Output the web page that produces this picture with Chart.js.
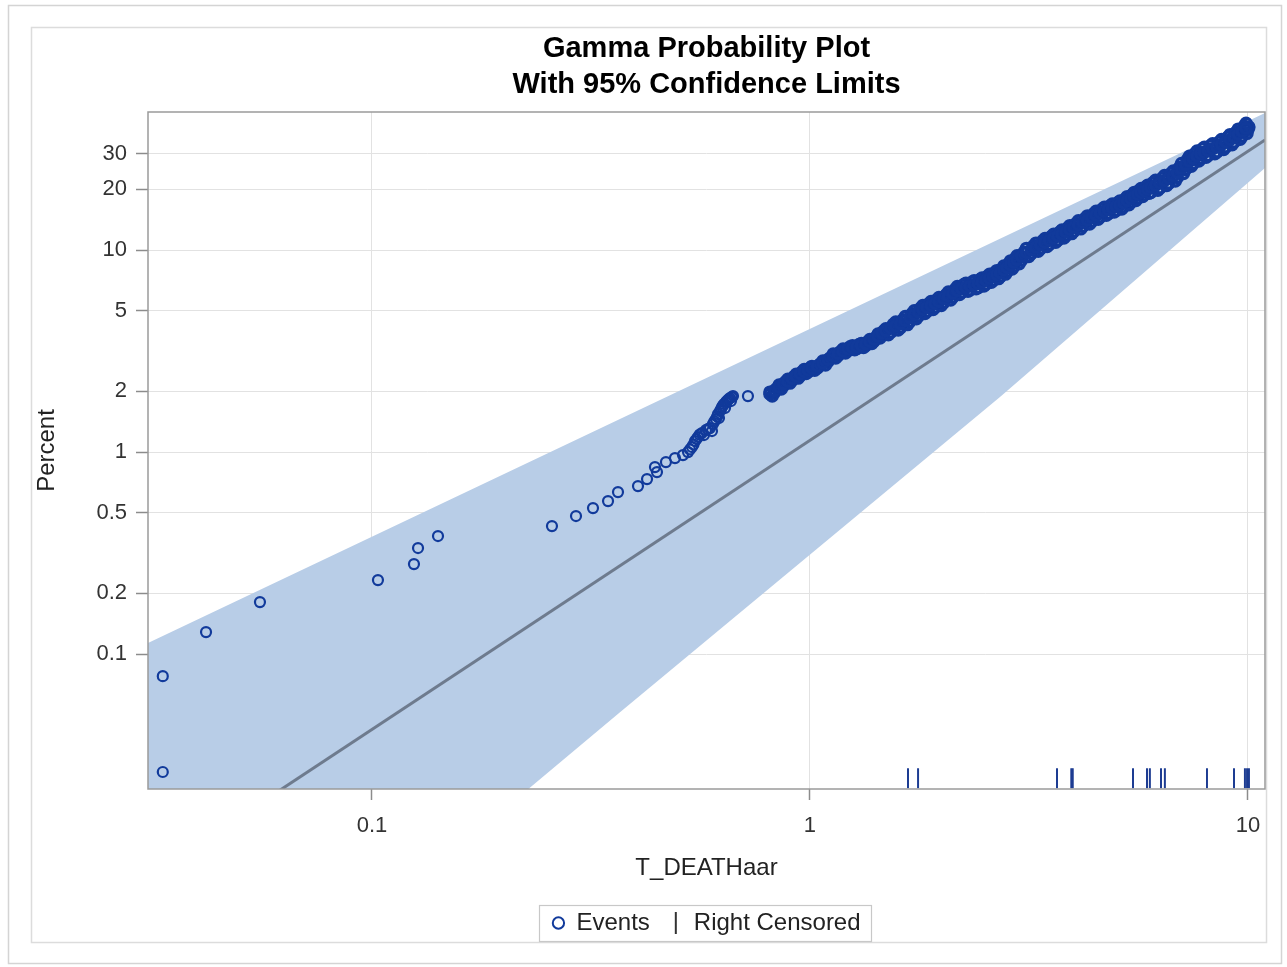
<!DOCTYPE html>
<html>
<head>
<meta charset="utf-8">
<script src="https://cdn.jsdelivr.net/npm/chart.js@4.4.1/dist/chart.umd.min.js"></script>
<style>
html,body{margin:0;padding:0;background:#fff;overflow:hidden}
#wrap{width:1287px;height:967px;position:relative}
</style>
</head>
<body>
<div id="wrap"><canvas id="c" width="1287" height="967"></canvas></div>
<script>
// ---- data ----
const titleLines = ['Gamma Probability Plot', 'With 95% Confidence Limits'];
const xAxisTitle = 'T_DEATHaar';
const yAxisTitle = 'Percent';
const xTicks = [0.1, 1, 10];
const yTicks = [0.1, 0.2, 0.5, 1, 2, 5, 10, 20, 30];

// sparse events (left part and the cluster near 0.5-0.7)
const sparseTimes = [
  0.0333, 0.0333, 0.0418, 0.0555, 0.1032, 0.1247, 0.1274, 0.1415, 0.2576, 0.2923,
  0.3196, 0.3459, 0.3645, 0.4049, 0.4246, 0.4474, 0.4427, 0.4690, 0.4918, 0.5129,
  0.5267, 0.5320, 0.5378, 0.5420, 0.5463, 0.5510, 0.5551, 0.5600, 0.5667, 0.5728,
  0.5788, 0.5850, 0.5911, 0.5974, 0.6004, 0.6050, 0.6100, 0.6140, 0.6166, 0.6198,
  0.6231, 0.6265, 0.6297, 0.6330, 0.6364, 0.6397, 0.6430, 0.6460, 0.6499, 0.6530,
  0.6568, 0.6601, 0.6630, 0.6672, 0.7217
];
const sparsePercents = [
  0.0778, 0.0261, 0.1285, 0.1809, 0.2324, 0.2789, 0.3349, 0.3840, 0.4302, 0.4824,
  0.5282, 0.5719, 0.6339, 0.6787, 0.7349, 0.7961, 0.8428, 0.8923, 0.9339, 0.9663,
  1.000, 1.03, 1.0587, 1.09, 1.1337, 1.16, 1.1866, 1.22, 1.2420, 1.2140,
  1.2849, 1.30, 1.3145, 1.2706, 1.3758, 1.42, 1.4566, 1.50, 1.5424, 1.4734,
  1.5959, 1.63, 1.6702, 1.70, 1.7282, 1.6512, 1.7681, 1.79, 1.8088, 1.83,
  1.8506, 1.7886, 1.87, 1.8933, 1.893
];

// dense run of events (thick band from ~0.8 to 10): three rows across the band
const denseTimesA = [
  0.81, 0.83, 0.85, 0.87, 0.89, 0.91, 0.93, 0.95, 0.97, 0.99,
  1.01, 1.04, 1.07, 1.10, 1.13, 1.16, 1.19, 1.22, 1.25, 1.28, 1.31, 1.34, 1.37, 1.40, 1.43, 1.46, 1.49,
  1.53, 1.57, 1.61, 1.65, 1.69, 1.73, 1.77, 1.81, 1.85, 1.89, 1.93, 1.97,
  2.02, 2.07, 2.12, 2.17, 2.22, 2.27, 2.32, 2.37, 2.42, 2.47, 2.52, 2.57, 2.62, 2.67, 2.72, 2.77, 2.82, 2.87, 2.92, 2.97,
  3.04, 3.12, 3.20, 3.28, 3.36, 3.44, 3.52, 3.60, 3.68, 3.76, 3.84, 3.92,
  4.0, 4.1, 4.2, 4.3, 4.4, 4.5, 4.6, 4.7, 4.8, 4.9, 5.0, 5.1, 5.2, 5.3, 5.4, 5.5, 5.6, 5.7, 5.8, 5.9,
  6.0, 6.15, 6.3, 6.45, 6.6, 6.75, 6.9, 7.05, 7.2, 7.35, 7.5, 7.65, 7.8, 7.95,
  8.1, 8.3, 8.5, 8.7, 8.9, 9.1, 9.3, 9.5, 9.7, 9.9, 10.0, 10.05
];
const densePercentsA = [
  1.981, 1.970, 2.146, 2.128, 2.296, 2.257, 2.431, 2.387, 2.562, 2.491,
  2.656, 2.603, 2.822, 2.809, 3.061, 3.007, 3.236, 3.169, 3.362, 3.252, 3.449, 3.360, 3.604, 3.536, 3.841, 3.803, 4.080,
  3.913, 4.404, 4.126, 4.684, 4.419, 5.006, 4.716, 5.310, 4.959, 5.566, 5.193, 5.821,
  5.478, 6.202, 5.833, 6.594, 6.158, 6.851, 6.337, 7.044, 6.513, 7.271, 6.776, 7.589, 7.067, 7.910, 7.368, 8.329, 7.824, 8.837, 8.296, 9.365,
  8.886, 10.19, 9.581, 10.82, 10.14, 11.41, 10.66, 11.98, 11.19, 12.58, 11.76, 13.21,
  12.34, 13.95, 13.09, 14.76, 13.84, 15.57, 14.58, 16.29, 15.13, 16.89, 15.67, 17.49, 16.35, 18.38, 17.18, 19.29, 18.01, 20.18, 18.75, 20.95,
  19.23, 22.16, 20.28, 23.38, 21.39, 24.64, 22.82, 26.84, 25.03, 29.11, 26.76, 30.92, 28.30, 32.30,
  29.27, 33.57, 30.56, 35.28, 32.33, 37.26, 34.19, 39.67, 36.56, 42.37, 39.5, 40.6
];
const denseTimesB = [
  0.82, 0.84, 0.86, 0.88, 0.90, 0.92, 0.94, 0.96, 0.98, 1.00,
  1.025, 1.055, 1.085, 1.115, 1.145, 1.175, 1.205, 1.235, 1.265, 1.295, 1.325, 1.355, 1.385, 1.415, 1.445, 1.475,
  1.51, 1.55, 1.59, 1.63, 1.67, 1.71, 1.75, 1.79, 1.83, 1.87, 1.91, 1.95, 1.995,
  2.045, 2.095, 2.145, 2.195, 2.245, 2.295, 2.345, 2.395, 2.445, 2.495, 2.545, 2.595, 2.645, 2.695, 2.745, 2.795, 2.845, 2.895, 2.945, 3.005,
  3.08, 3.16, 3.24, 3.32, 3.40, 3.48, 3.56, 3.64, 3.72, 3.80, 3.88, 3.96,
  4.05, 4.15, 4.25, 4.35, 4.45, 4.55, 4.65, 4.75, 4.85, 4.95, 5.05, 5.15, 5.25, 5.35, 5.45, 5.55, 5.65, 5.75, 5.85, 5.95,
  6.075, 6.225, 6.375, 6.525, 6.675, 6.825, 6.975, 7.125, 7.275, 7.425, 7.575, 7.725, 7.875, 8.025,
  8.2, 8.4, 8.6, 8.8, 9.0, 9.2, 9.4, 9.6, 9.8, 9.95
];
const densePercentsB = [
  1.892, 2.063, 2.049, 2.228, 2.193, 2.363, 2.322, 2.499, 2.447, 2.608,
  2.537, 2.726, 2.695, 2.941, 2.923, 3.149, 3.090, 3.318, 3.211, 3.405, 3.294, 3.518, 3.442, 3.703, 3.668, 3.982,
  3.807, 4.291, 4.016, 4.524, 4.272, 4.845, 4.566, 5.171, 4.843, 5.438, 5.076, 5.694, 5.308,
  6.007, 5.656, 6.396, 6.014, 6.752, 6.248, 6.948, 6.424, 7.142, 6.631, 7.430, 6.921, 7.749, 7.214, 8.079, 7.596, 8.578, 8.059, 9.096, 8.541,
  9.743, 9.290, 10.51, 9.860, 11.12, 10.41, 11.69, 10.93, 12.27, 11.47, 12.89, 12.05,
  13.53, 12.72, 14.35, 13.46, 15.18, 14.21, 15.98, 14.85, 16.59, 15.41, 17.19, 15.95, 17.93, 16.76, 18.84, 17.59, 19.75, 18.40, 20.56, 19.10,
  21.58, 19.75, 22.75, 20.84, 24.01, 21.96, 25.60, 23.92, 28.08, 25.95, 30.02, 27.56, 31.75, 28.78,
  32.84, 29.92, 34.29, 31.45, 36.28, 33.21, 38.36, 35.36, 41.01, 37.76
];
// middle row of the band (same times as row A)
const densePercentsC = [
  1.936, 2.016, 2.097, 2.178, 2.244, 2.310, 2.376, 2.443, 2.504, 2.549,
  2.596, 2.664, 2.758, 2.874, 2.991, 3.077, 3.162, 3.243, 3.285, 3.328, 3.370, 3.438, 3.522, 3.618, 3.754, 3.892, 3.987,
  4.097, 4.206, 4.320, 4.473, 4.627, 4.781, 4.938, 5.071, 5.193, 5.315, 5.438, 5.559,
  5.737, 5.923, 6.108, 6.297, 6.448, 6.543, 6.636, 6.727, 6.820, 6.943, 7.096, 7.247, 7.401, 7.554, 7.716, 7.954, 8.193, 8.439, 8.687, 8.944,
  9.305, 9.727, 10.03, 10.33, 10.62, 10.90, 11.16, 11.44, 11.72, 12.01, 12.31, 12.62,
  12.92, 13.32, 13.70, 14.09, 14.49, 14.87, 15.27, 15.56, 15.84, 16.13, 16.41, 16.70, 17.12, 17.55, 17.99, 18.42, 18.86, 19.27, 19.64, 20.00,
  20.37, 20.93, 21.48, 22.08, 22.66, 23.26, 24.17, 25.34, 26.51, 27.49, 28.34, 29.20, 29.98, 30.49,
  31.00, 31.70, 32.37, 33.31, 34.24, 35.18, 36.22, 37.46, 38.72, 40.00
];
const denseTimesC = denseTimesA.slice(0, densePercentsC.length);

const censoredTimes = [1.674, 1.765, 3.664, 3.95, 3.98, 5.464, 5.88, 5.97, 6.33, 6.46, 8.06, 9.29, 9.84, 9.95, 10.05];
const censorMarkPercent = 0.0243;

const fitTimes = [0.03081, 10.935];
const fitPercents = [0.00786, 35.05];

const bandTimes = [0.03081, 0.3683, 2.715, 10.935];
const bandUpper = [0.1134, 1.457, 11.37, 47.66];
const bandLower = [0.000568, 0.0516, 1.872, 25.47];

const xRange = [0.03081, 10.935];
const yRange = [0.0215, 48.2];

// ---- styling ----
const FONT = '"Liberation Sans", Arial, Helvetica, sans-serif';
Chart.defaults.font.family = FONT;
Chart.defaults.color = '#333';

const pts = (xs, ys) => xs.map((v, i) => ({x: v, y: ys[i]}));
const eventPoints = pts(sparseTimes, sparsePercents)
  .concat(pts(denseTimesA, densePercentsA))
  .concat(pts(denseTimesB, densePercentsB))
  .concat(pts(denseTimesC, densePercentsC));
const nSparse = sparseTimes.length;

const barMark = document.createElement('canvas');
barMark.width = 4; barMark.height = 22;
(function(){ const b = barMark.getContext('2d'); b.fillStyle = '#333'; b.fillRect(1, 0, 2, 22); })();

const decor = {
  id: 'decor',
  beforeDraw(chart) {
    const ctx = chart.ctx;
    ctx.save();
    ctx.fillStyle = '#fff';
    ctx.fillRect(0, 0, chart.width, chart.height);
    ctx.strokeStyle = '#d4d4d4';
    ctx.lineWidth = 1.5;
    ctx.strokeRect(8.5, 5.5, 1273, 958);
    ctx.strokeStyle = '#dcdcdc';
    ctx.strokeRect(31.5, 27.5, 1235, 915);
    ctx.restore();
  },
  afterDatasetsDraw(chart) {
    const {left, top, right, bottom} = chart.chartArea;
    const ctx = chart.ctx;
    ctx.save();
    ctx.strokeStyle = '#9a9a9a';
    ctx.lineWidth = 1.5;
    ctx.strokeRect(left, top, right - left, bottom - top);
    ctx.restore();
  },
  afterDraw(chart) {
    const hb = chart.legend && chart.legend.legendHitBoxes;
    if (!hb || !hb.length) return;
    const f = hb[0], l = hb[hb.length - 1];
    const cy = f.top + f.height / 2;
    const ctx = chart.ctx;
    ctx.save();
    ctx.strokeStyle = '#c8c8c8';
    ctx.lineWidth = 1.2;
    ctx.strokeRect(Math.round(f.left - 13) + 0.5, Math.round(cy - 18) + 0.5, Math.round(l.left + l.width - f.left + 24), 36);
    ctx.restore();
  }
};

new Chart(document.getElementById('c'), {
  type: 'scatter',
  data: {
    datasets: [
      {
        label: 'Events',
        data: eventPoints,
        pointStyle: 'circle',
        pointRadius: 5,
        borderWidth: 2,
        pointBorderWidth: c => (c.dataIndex >= nSparse ? 3.4 : 2.2),
        borderColor: '#113a9b',
        backgroundColor: 'rgba(0,0,0,0)'
      },
      {
        label: 'Right Censored',
        data: censoredTimes.map(t => ({x: t, y: censorMarkPercent})),
        pointStyle: 'line',
        rotation: 90,
        pointRadius: 10,
        borderWidth: 2,
        pointBorderWidth: 2,
        borderColor: '#1d3c92',
        backgroundColor: '#1d3c92'
      },
      {
        label: 'fit',
        data: pts(fitTimes, fitPercents),
        showLine: true,
        pointRadius: 0,
        borderWidth: 3,
        borderColor: '#6e7b8e',
        fill: false
      },
      {
        label: 'upper',
        data: pts(bandTimes, bandUpper),
        showLine: true,
        pointRadius: 0,
        borderWidth: 1,
        borderColor: 'rgba(0,0,0,0)',
        fill: false
      },
      {
        label: 'lower',
        data: pts(bandTimes, bandLower),
        showLine: true,
        pointRadius: 0,
        borderWidth: 1,
        borderColor: 'rgba(0,0,0,0)',
        backgroundColor: '#b8cde7',
        fill: {target: 3}
      }
    ]
  },
  options: {
    responsive: false,
    animation: false,
    events: [],
    layout: {padding: {left: 32, right: 22, top: 0, bottom: 22}},
    plugins: {
      tooltip: {enabled: false},
      title: {
        display: true,
        text: titleLines,
        fullSize: false,
        color: '#000',
        font: {size: 29, weight: 'bold', lineHeight: '36px'},
        padding: {top: 31, bottom: 9}
      },
      legend: {
        position: 'bottom',
        fullSize: false,
        labels: {
          usePointStyle: true,
          boxWidth: 12,
          boxHeight: 8,
          padding: 20,
          color: '#222',
          font: {size: 24},
          filter: item => item.datasetIndex < 2,
          generateLabels(chart) {
            const items = Chart.defaults.plugins.legend.labels.generateLabels(chart);
            items.forEach(it => {
              if (it.datasetIndex === 1) { it.pointStyle = barMark; it.rotation = 0; }
              if (it.datasetIndex === 0) { it.lineWidth = 2; }
            });
            return items;
          }
        }
      }
    },
    scales: {
      x: {
        type: 'logarithmic',
        position: 'bottom',
        min: xRange[0],
        max: xRange[1],
        afterBuildTicks: s => { s.ticks = xTicks.map(v => ({value: v})); },
        afterFit: s => { s.height = 102; },
        ticks: {callback: v => String(v), autoSkip: false, maxRotation: 0, padding: 13, font: {size: 22}, color: '#333'},
        grid: {color: '#e2e2e2', lineWidth: 1, tickColor: '#8c8c8c', tickLength: 11, tickWidth: 1.5},
        border: {display: false},
        title: {display: true, text: xAxisTitle, color: '#222', font: {size: 24}, padding: {top: 0, bottom: 8.6}}
      },
      y: {
        type: 'logarithmic',
        position: 'left',
        min: yRange[0],
        max: yRange[1],
        afterBuildTicks: s => { s.ticks = yTicks.map(v => ({value: v})); },
        afterFit: s => { s.width = 116; },
        ticks: {callback: v => String(v), autoSkip: false, padding: 9, font: {size: 22}, color: '#333'},
        grid: {color: '#e2e2e2', lineWidth: 1, tickColor: '#8c8c8c', tickLength: 12, tickWidth: 1.5},
        border: {display: false},
        title: {display: true, text: yAxisTitle, color: '#222', font: {size: 24}, padding: {top: 1, bottom: 0}}
      }
    }
  },
  plugins: [decor]
});
</script>
</body>
</html>
